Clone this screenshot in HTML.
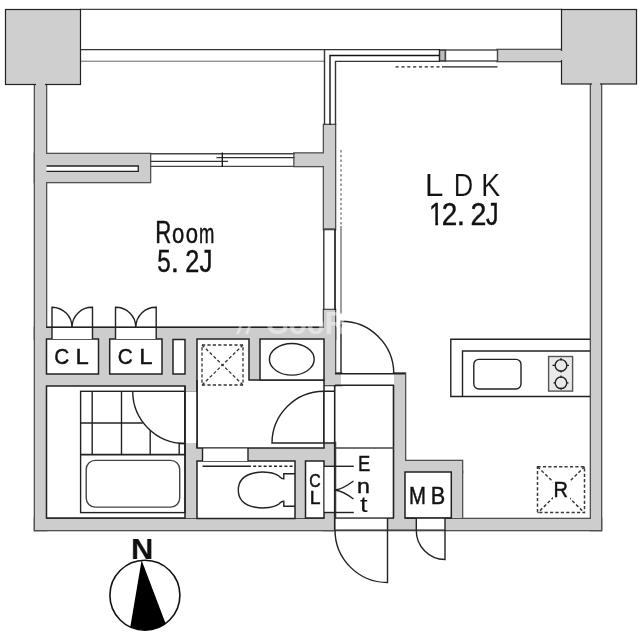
<!DOCTYPE html>
<html><head><meta charset="utf-8">
<style>
html,body{margin:0;padding:0;background:#fff;}
body{width:640px;height:640px;overflow:hidden;font-family:"Liberation Sans",sans-serif;}
svg{display:block;filter:grayscale(1)}
text{font-family:"Liberation Sans",sans-serif;fill:#111}
</style></head><body>
<svg width="640" height="640" viewBox="0 0 640 640">
<rect width="640" height="640" fill="#fff"/>
<defs>
<g id="walls">
<rect x="35" y="84" width="11" height="446"/>
<rect x="35" y="519" width="566" height="11"/>
<rect x="591" y="84" width="10" height="446"/>
<rect x="497.5" y="50" width="64" height="11"/>
<rect x="35" y="154" width="115" height="28"/>
<rect x="294.5" y="153.5" width="30" height="12.5"/>
<rect x="324" y="125" width="11" height="104"/>
<rect x="35" y="328" width="300" height="11"/>
<rect x="46" y="339" width="151" height="47"/>
<rect x="185" y="339" width="12" height="52"/>
<rect x="185" y="443" width="17" height="18"/>
<rect x="185" y="461" width="12" height="57"/>
<rect x="249" y="339" width="11" height="41"/>
<rect x="324" y="310" width="11" height="75"/>
<rect x="335" y="373.5" width="6" height="11.5"/>
<rect x="197" y="448" width="127" height="13"/>
<rect x="295" y="461" width="10.5" height="57"/>
<rect x="324" y="443" width="11" height="87"/>
<rect x="394" y="373.5" width="11" height="156"/>
<rect x="405" y="461" width="57" height="11"/>
<rect x="451" y="472" width="11" height="46"/>
</g>
</defs>
<!-- balcony / top lines -->
<g stroke="#444" stroke-width="1" fill="none">
<line x1="80" y1="9.4" x2="562" y2="9.4" stroke-width="1.3"/>
<line x1="80" y1="49.6" x2="324" y2="49.6" stroke="#333" stroke-width="1.4"/>
<line x1="80" y1="61.2" x2="324" y2="61.2" stroke="#666"/>
</g>
<!-- walls -->
<use href="#walls" fill="#cdcdcd" stroke="#505050" stroke-width="2.6"/>
<use href="#walls" fill="#cdcdcd" stroke="none"/>
<!-- pillars -->
<rect x="5.5" y="9.5" width="75" height="75" fill="#cfcfcf" stroke="#222" stroke-width="1.2"/>
<rect x="561.5" y="9.5" width="75" height="74.5" fill="#cfcfcf" stroke="#222" stroke-width="1.2"/>
<rect x="36" y="83" width="9" height="4" fill="#cdcdcd"/>
<rect x="592" y="82" width="8" height="4" fill="#cdcdcd"/>
<rect x="559" y="51" width="5" height="9" fill="#cdcdcd"/>

<!-- ===== white openings / boxes ===== -->
<g fill="#fff" stroke="#222" stroke-width="1.5">
<!-- slit in room wall -->
<path d="M46.5,166 H138.3 V171.3 H46.5" stroke-width="1.3"/>
<!-- closet boxes -->
<rect x="46.5" y="339" width="52" height="35"/>
<rect x="109.7" y="339" width="52.3" height="35"/>
<rect x="173" y="339.5" width="12" height="34.5"/>
<!-- bathroom -->
<rect x="46.5" y="386" width="138.5" height="132"/>
<!-- washroom L -->
<path d="M197,339 H249 V380 H324 V448 H197 Z"/>
<!-- sink box -->
<rect x="260" y="339" width="64" height="41"/>
<!-- toilet room -->
<rect x="197" y="461" width="98" height="57.5"/>
<!-- entrance closet -->
<rect x="305.5" y="461" width="18.5" height="57"/>
<!-- MB -->
<rect x="405" y="472" width="46.3" height="46"/>
</g>
<!-- openings without full stroke -->
<g fill="#fff" stroke="none">
<rect x="52" y="327.6" width="40.5" height="11.4"/>
<rect x="115.5" y="327.6" width="40.7" height="11.4"/>
<rect x="185.6" y="391.5" width="11" height="51.5"/>
<rect x="324.6" y="391.5" width="10" height="51.5"/>
<rect x="202.5" y="448.6" width="45.5" height="12.4"/>
<rect x="324.6" y="466.5" width="10" height="46"/>
<rect x="335.6" y="518.6" width="51.4" height="10.8"/>
<rect x="416.6" y="518.6" width="28.4" height="10.8"/>
<rect x="341" y="374" width="53" height="11"/>
</g>

<!-- ===== detail lines ===== -->
<g fill="none" stroke="#222" stroke-width="1.4">
<!-- LDK corner window (3 lines, L shape) -->
<path d="M324.5,125 V49.6 H440" stroke="#333"/>
<path d="M330,125 V55.5 H440" stroke="#111" stroke-width="1.4"/>
<path d="M335.5,125 V61.4 H440" stroke="#333"/>
<!-- window end block + second window -->
<rect x="439.5" y="50" width="6" height="11" fill="#bbb" stroke="#222"/>
<rect x="445.5" y="50" width="52" height="11" fill="#fff" stroke="#444"/>
<line x1="442" y1="66.9" x2="497.5" y2="66.9" stroke="#222" stroke-width="1.4"/>
<line x1="395.6" y1="66.9" x2="442" y2="66.9" stroke="#222" stroke-width="1.4" stroke-dasharray="3.1,2.73"/>
<!-- Room sliding window -->
<line x1="150.5" y1="153.7" x2="294.5" y2="153.7" stroke="#444"/>
<line x1="150.5" y1="166.4" x2="294.5" y2="166.4" stroke="#444"/>
<line x1="150.5" y1="161.3" x2="228" y2="161.3" stroke="#333" stroke-width="1.3"/>
<line x1="216.5" y1="157.6" x2="294.5" y2="157.6" stroke="#333" stroke-width="1.3"/>
<line x1="222.3" y1="152.5" x2="222.3" y2="167" stroke="#111" stroke-width="1.3"/>
<!-- glass partition -->
<line x1="323.8" y1="229" x2="323.8" y2="310" stroke="#333"/>
<line x1="335" y1="229" x2="335" y2="310" stroke="#111" stroke-width="1.6"/>
<line x1="341" y1="226" x2="341" y2="314" stroke="#777"/>
<line x1="341" y1="150" x2="341" y2="226" stroke="#777" stroke-dasharray="2.4,2.4"/>
<line x1="324" y1="229" x2="335" y2="229" stroke="#444"/>
<!-- LDK door -->
<path d="M341,373.5 V321.3 A52.5,52.5 0 0 1 393.8,373.5" />
<line x1="335" y1="373.7" x2="405" y2="373.7"/>
<line x1="335" y1="385.3" x2="394" y2="385.3"/>
<line x1="334.7" y1="385" x2="334.7" y2="530" stroke-width="1.6"/>
<line x1="393.6" y1="385" x2="393.6" y2="518"/>
<line x1="335" y1="448" x2="394" y2="448" stroke="#444"/>
<!-- washroom door -->
<path d="M335,443 H272 A52,52 0 0 1 323.8,391.3 H335"/>
<line x1="323.8" y1="391" x2="323.8" y2="443"/>
<!-- closet doors -->
<path d="M52,339 V307.2 A20,20 0 0 1 72,327.2 A20,20 0 0 1 92.5,307.2 V339"/>
<path d="M115.5,339 V307.2 A20,20 0 0 1 135.8,327.2 A20,20 0 0 1 156.2,307.2 V339"/>
<line x1="46" y1="327.2" x2="324" y2="327.2"/>
<!-- bathroom door opening side lines -->
<line x1="185" y1="386" x2="185" y2="455"/>
<line x1="197" y1="380" x2="197" y2="448"/>
<!-- bath tile area -->
<rect x="80.6" y="391.3" width="104.4" height="121.3"/>
<line x1="92.2" y1="391.5" x2="92.2" y2="455"/>
<line x1="121.5" y1="391.5" x2="121.5" y2="455"/>
<line x1="150.2" y1="430.3" x2="150.2" y2="455"/>
<line x1="80.5" y1="423" x2="142.8" y2="423"/>
<line x1="80.5" y1="454.7" x2="185" y2="454.7" stroke-width="1.8"/>
<path d="M132.7,391.3 A52.3,52.3 0 0 0 185,443.5"/>
<path d="M179.2,455 V443.5 H185"/>
<rect x="86.2" y="460.4" width="93.5" height="46.7" rx="9" ry="9" stroke="#444"/>
<!-- dashed X box (washer) -->
<g stroke="#333" stroke-width="1.3" stroke-dasharray="3.2,2.2">
<rect x="202" y="345" width="41" height="40"/>
<line x1="202" y1="345" x2="243" y2="385"/>
<line x1="243" y1="345" x2="202" y2="385"/>
</g>
<!-- sink -->
<ellipse cx="291.8" cy="359.3" rx="22.4" ry="15.8"/>
<!-- toilet door sides + lines -->
<line x1="202.5" y1="448" x2="202.5" y2="461"/>
<line x1="248" y1="448" x2="248" y2="461"/>
<line x1="202.5" y1="466.2" x2="248" y2="466.2"/>
<line x1="248" y1="466.2" x2="293" y2="466.2" stroke-dasharray="3,2.2"/>
<!-- toilet -->
<path d="M295,473.8 H283.8 V478.8 C281.5,479 280.5,477.5 279,476 C270,469.5 238.3,469 238.3,490 C238.3,511 270,510.5 279,504 C280.5,502.5 281.5,501 283.8,501.2 V506.3 H295"/>
<!-- entrance closet door -->
<line x1="324" y1="466.3" x2="353.8" y2="466.3"/>
<line x1="324" y1="512.5" x2="353.8" y2="512.5"/>
<path d="M353.5,481 Q343,489 335,490 Q343,491 353.5,499"/>
<!-- entrance door -->
<path d="M387.5,518 V582.5 A52.5,52.5 0 0 1 335,530"/>
<!-- MB door -->
<path d="M445,518 V559.5 A29,29 0 0 1 416.3,530 V518"/>
<!-- kitchen -->
<path d="M590,339.3 H450.8 V396.5 H590"/>
<path d="M590,351 H462.5 V396.5"/>
<rect x="473.8" y="359.4" width="47.2" height="29.6" rx="5" ry="5"/>
<rect x="548.6" y="356.5" width="24" height="34.6" fill="#e9e9e9" stroke="#555"/>
<circle cx="561" cy="365.4" r="5.8" stroke-width="1.4"/>
<circle cx="561" cy="382.8" r="5.8" stroke-width="1.4"/>
<path d="M552.4,365.4 H556 M566,365.4 H569 M561,358 V360.5 M561,370.5 V372.5 M553.5,382.8 H556 M566,382.8 H568.5 M561,375.6 V378 M561,387.5 V389.8" stroke-width="1.2"/>
<!-- R box -->
<g stroke="#3a3a3a" stroke-width="1.5" stroke-dasharray="3.2,2.2">
<rect x="537.5" y="466.7" width="47" height="45.9"/>
<line x1="537.6" y1="466.7" x2="584.6" y2="513"/>
<line x1="584.6" y1="466.7" x2="537.6" y2="513"/>
</g>
</g>

<g fill="none" stroke="#222" stroke-width="1.1">
<line x1="335" y1="518" x2="394" y2="518"/>
<line x1="335" y1="530" x2="445.5" y2="530" stroke="#333"/>
<line x1="405" y1="518" x2="451" y2="518"/>
</g>
<!-- R text background -->
<rect x="553" y="480" width="17" height="20" fill="#fff"/>
<!-- ===== text ===== -->
<g stroke="#111" stroke-width="0.45" style="opacity:0.995">
<text transform="translate(155.32,242.9) scale(0.706,1)" font-size="31.45">R</text>
<text transform="translate(172.12,243.03) scale(0.805,1)" font-size="27.45">o</text>
<text transform="translate(185.72,243.03) scale(0.805,1)" font-size="27.45">o</text>
<text transform="translate(198.9,242.9) scale(0.677,1)" font-size="27.22">m</text>
<text transform="translate(157.23,271.59) scale(0.774,1)" font-size="31.29">5</text>
<text transform="translate(170.85,271.8) scale(0.998,1)" font-size="29.52">.</text>
<text transform="translate(185.34,271.7) scale(0.815,1)" font-size="31.0">2</text>
<text transform="translate(199.41,271.59) scale(0.834,1)" font-size="31.29">J</text>
<text transform="translate(424.57,196.2) scale(1.101,1)" font-size="31.01" stroke="#fff" stroke-width="0.2">L</text>
<text transform="translate(453.74,196.2) scale(0.872,1)" font-size="31.01" stroke="#fff" stroke-width="0.2">D</text>
<text transform="translate(480.98,196.2) scale(0.936,1)" font-size="31.01" stroke="#fff" stroke-width="0.2">K</text>
<text transform="translate(441.8,225.0) scale(0.9,1)" font-size="31.0">2</text>
<text transform="translate(456.75,225.0) scale(0.967,1)" font-size="30.48">.</text>
<text transform="translate(470.57,225.0) scale(0.922,1)" font-size="31.0">2</text>
<text transform="translate(485.92,224.89) scale(0.803,1)" font-size="31.29">J</text>
<text transform="translate(54.16,363.97) scale(0.911,1)" font-size="22.82">C</text>
<text transform="translate(75.49,363.9) scale(1.054,1)" font-size="22.61">L</text>
<text transform="translate(117.86,363.97) scale(0.911,1)" font-size="22.82">C</text>
<text transform="translate(139.29,363.9) scale(1.054,1)" font-size="22.61">L</text>
<text transform="translate(408.98,503.5) scale(0.881,1)" font-size="23.04">M</text>
<text transform="translate(430.87,503.5) scale(0.941,1)" font-size="23.04">B</text>
<text transform="translate(553.4,497.3) scale(0.902,1)" font-size="22.17">R</text>
<text transform="translate(357.93,471.0) scale(0.827,1)" font-size="22.17">E</text>
<text transform="translate(357.1,492.5) scale(1.112,1)" font-size="20.74">n</text>
<text transform="translate(360.0,511.78) scale(1.22,1)" font-size="22.44" stroke-width="0.05">t</text>
<text transform="translate(309.21,487.43) scale(0.909,1)" font-size="17.46">C</text>
<text transform="translate(309.65,504.2) scale(1.093,1)" font-size="17.68">L</text>
<text transform="translate(429.0,225.0) scale(0.82,1)" font-size="31.54">1</text>
<rect x="430" y="222" width="5.25" height="4.5" fill="#fff" stroke="none"/>
<rect x="438.05" y="222" width="4.9" height="4.5" fill="#fff" stroke="none"/>
</g>
<!-- compass -->
<circle cx="144.9" cy="595.2" r="35" fill="#fff" stroke="#111" stroke-width="1.6"/>
<path d="M141.6,560.2 L130.3,627 A35,35 0 0 0 165.6,623.4 Z" fill="#000"/>
<text transform="translate(130.99,558.6) scale(1.059,1)" font-size="29.13" font-weight="bold" fill="#000" stroke="#000" stroke-width="0.1">N</text>

<!-- watermark -->
<g style="opacity:0.45" fill="#fff" stroke="none">
<text x="266" y="333.5" font-size="32" font-weight="bold" style="fill:#fff" stroke="#fff" stroke-width="0.1" textLength="80" lengthAdjust="spacingAndGlyphs">GooR</text>
<path d="M236,334 L246,309 L249,309 L239,334 Z M245,334 L255,309 L258,309 L248,334 Z"/>
</g>
</svg>
</body></html>
